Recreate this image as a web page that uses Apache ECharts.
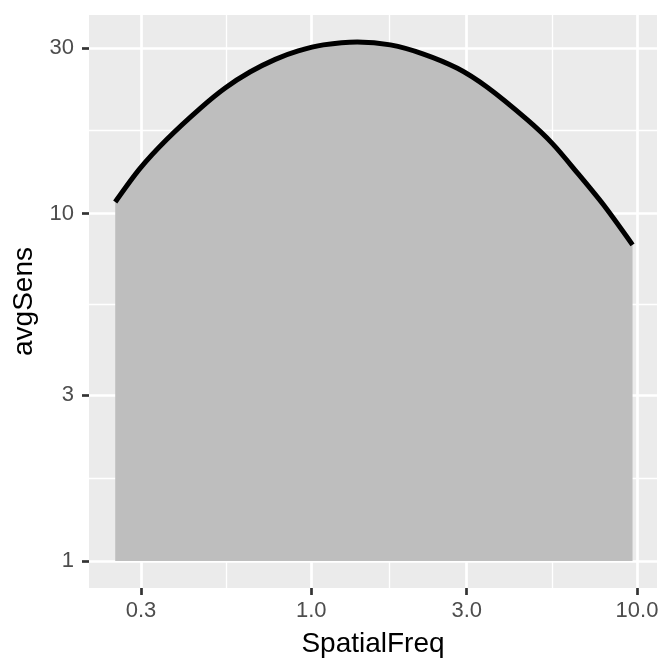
<!DOCTYPE html>
<html>
<head>
<meta charset="utf-8">
<script src="https://cdn.jsdelivr.net/npm/echarts@6/dist/echarts.min.js"></script>
<style>html,body{margin:0;padding:0;background:#fff;}#c{width:672px;height:672px;}</style>
</head>
<body>
<div id="c"></div>
<script>
const spatialFreq = [0.25, 0.298, 0.361, 0.456, 0.544, 0.65, 0.775, 0.912, 1.089, 1.384, 1.749, 2.21, 2.81, 3.47, 4.61, 5.5, 6.56, 7.89, 9.69];
const avgSens = [10.8, 13.5, 16.4, 20.1, 23.0, 25.6, 27.8, 29.4, 30.6, 31.2, 30.6, 28.8, 26.2, 23.1, 18.6, 15.9, 13.1, 10.6, 8.13];
const xTicks = [0.3, 1, 3, 10];
const yTicks = [1, 3, 10, 30];
const xMinor = [0.5477, 1.732, 5.477];
const yMinor = [1.732, 5.477, 17.32];

const chart = echarts.init(document.getElementById('c'));
const font = 'Liberation Sans, Arial, sans-serif';
const gridLines = [];
xMinor.forEach(v => gridLines.push({xAxis: v, lineStyle: {width: 1.35}}));
yMinor.forEach(v => gridLines.push({yAxis: v, lineStyle: {width: 1.35}}));
xTicks.forEach(v => gridLines.push({xAxis: v, lineStyle: {width: 2.7}}));
yTicks.forEach(v => gridLines.push({yAxis: v, lineStyle: {width: 2.7}}));

chart.setOption({
  animation: false,
  backgroundColor: '#ffffff',
  grid: {left: 89, right: 15, top: 15, bottom: 84, show: true, backgroundColor: '#EBEBEB', borderWidth: 0},
  xAxis: {
    type: 'log', logBase: 10, min: 0.2077, max: 11.52,
    name: 'SpatialFreq', nameLocation: 'middle', nameGap: 42,
    nameTextStyle: {fontFamily: font, fontSize: 28, color: '#000', verticalAlign: 'top'},
    axisLine: {show: false},
    axisTick: {show: true, customValues: xTicks, length: 7, lineStyle: {color: '#333', width: 2.7}},
    axisLabel: {customValues: xTicks, margin: 12, fontFamily: font, fontSize: 22, color: '#4D4D4D',
      formatter: v => Number(v).toFixed(1)},
    splitLine: {show: false}
  },
  yAxis: {
    type: 'log', logBase: 10, min: 0.836, max: 37.3,
    name: 'avgSens', nameLocation: 'middle', nameGap: 51, nameRotate: 90,
    nameTextStyle: {fontFamily: font, fontSize: 28, color: '#000'},
    axisLine: {show: false},
    axisTick: {show: true, customValues: yTicks, length: 7, lineStyle: {color: '#333', width: 2.7}},
    axisLabel: {customValues: yTicks, margin: 15, fontFamily: font, fontSize: 22, color: '#4D4D4D',
      formatter: v => String(Math.round(v))},
    splitLine: {show: false}
  },
  series: [{
    type: 'line',
    data: spatialFreq.map((x, i) => [x, avgSens[i]]),
    smooth: 0.3,
    showSymbol: false,
    lineStyle: {color: '#000', width: 5},
    areaStyle: {color: '#BEBEBE', opacity: 1, origin: 1},
    z: 3,
    markLine: {
      silent: true, symbol: 'none', label: {show: false},
      lineStyle: {color: '#ffffff', type: 'solid'},
      data: gridLines,
      z: 1
    }
  }]
});
</script>
</body>
</html>
